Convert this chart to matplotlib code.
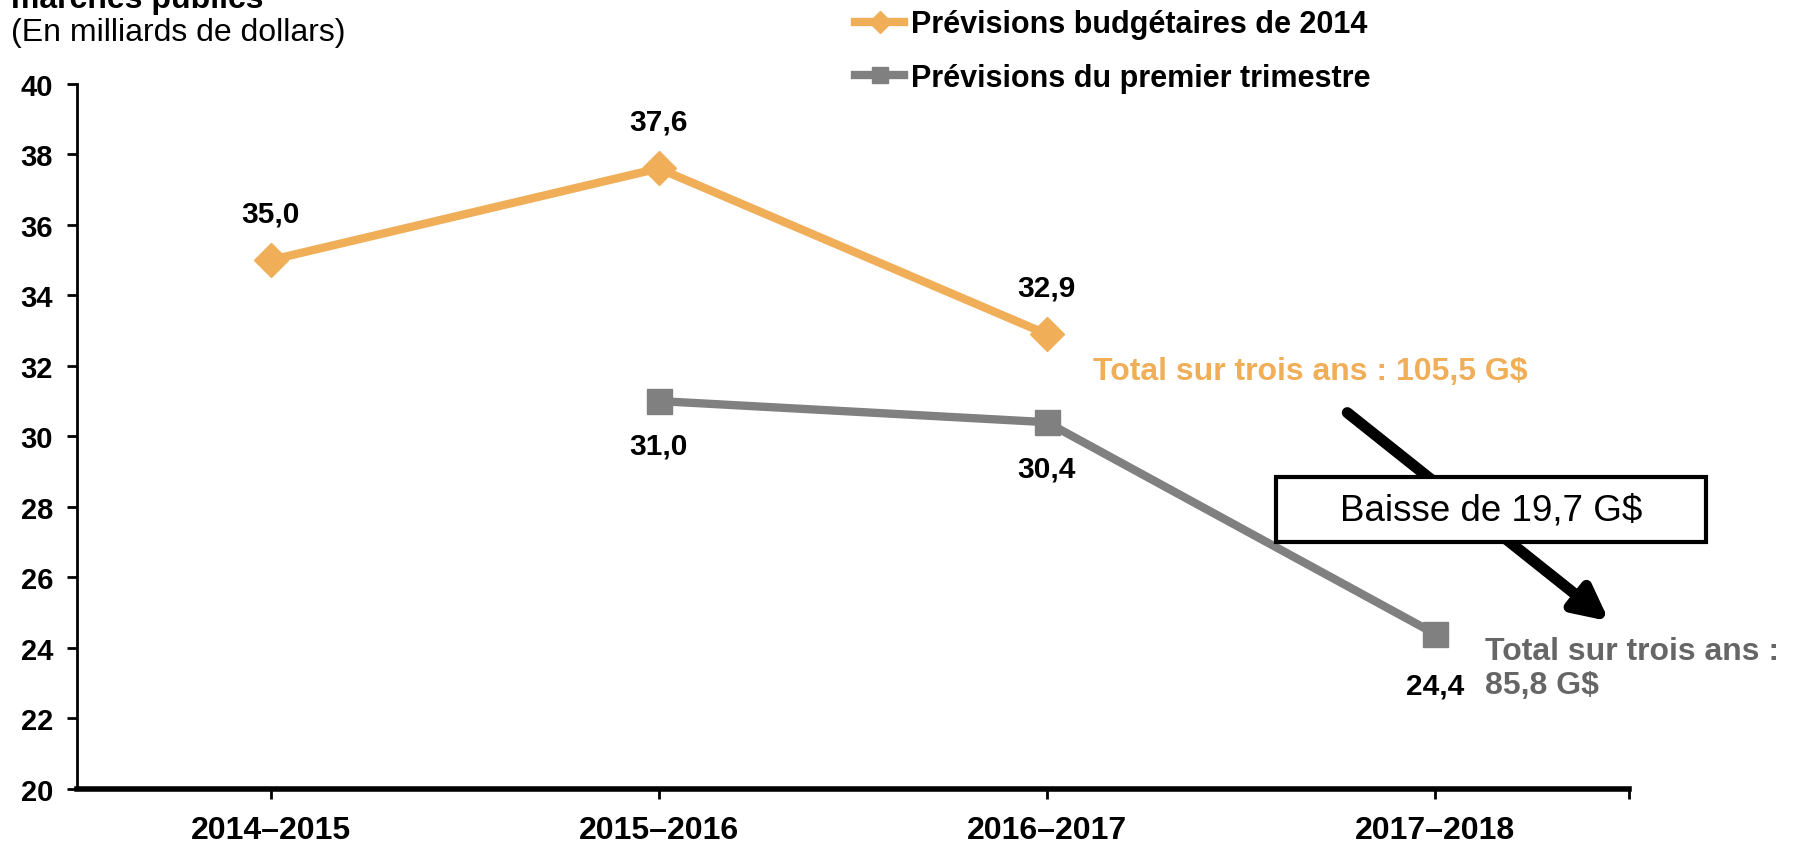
import matplotlib.pyplot as plt
from matplotlib.lines import Line2D
from matplotlib.patches import Rectangle

plt.rcParams['font.family'] = ['Liberation Sans', 'DejaVu Sans']

# data
years = ['2014–2015', '2015–2016', '2016–2017', '2017–2018']
budget_x = [0, 1, 2]
budget_vals = [35.0, 37.6, 32.9]
q1_x = [1, 2, 3]
q1_vals = [31.0, 30.4, 24.4]
budget_label = 'Prévisions budgétaires de 2014'
q1_label = 'Prévisions du premier trimestre'
total_budget = 'Total sur trois ans : 105,5 G$'
total_q1 = 'Total sur trois ans :\n85,8 G$'
drop_text = 'Baisse de 19,7 G$'

orange = '#F0AE58'
grey = '#808080'

fig = plt.figure(figsize=(17.97, 8.45), dpi=100)
ax = fig.add_axes([0.0427, 0.0654, 0.8636, 0.8342])

ax.plot(budget_x, budget_vals, color=orange, lw=6, marker='D', markersize=17, zorder=3)
ax.plot(q1_x, q1_vals, color=grey, lw=6, marker='s', markersize=18, zorder=3)

# data labels
for x, v in zip(budget_x, budget_vals):
    ax.annotate(f'{v:.1f}'.replace('.', ','), (x, v), xytext=(0, 33.5), textcoords='offset points',
                ha='center', va='center', fontsize=21.5, fontweight='bold')
for x, v, off in zip(q1_x, q1_vals, [-32, -33, -37]):
    ax.annotate(f'{v:.1f}'.replace('.', ','), (x, v), xytext=(0, off), textcoords='offset points',
                ha='center', va='center', fontsize=21.5, fontweight='bold')

ax.text(2.12, 31.85, total_budget, color=orange, fontsize=23, fontweight='bold', va='center', ha='left')
ax.text(3.13, 23.43, total_q1, color='#666666', fontsize=23, fontweight='bold', va='center', ha='left',
        linespacing=1.2, clip_on=False)

# arrow + box
ax.annotate('', xy=(3.45, 24.75), xytext=(2.775, 30.67),
            arrowprops=dict(arrowstyle='-|>,head_length=2.0,head_width=1.0', color='black', lw=8,
                            shrinkA=0, shrinkB=0), zorder=4, annotation_clip=False)
ax.add_patch(Rectangle((2.592, 26.99), 1.107, 1.86, facecolor='white', edgecolor='black', lw=3,
                       zorder=5, clip_on=False))
ax.text(3.145, 27.92, drop_text, fontsize=26.5, ha='center', va='center', zorder=6)

ax.set_xlim(-0.5, 3.5)
ax.set_ylim(20, 40)
ax.set_yticks(range(20, 41, 2))
ax.set_xticks(range(len(years)))
ax.set_xticklabels(years)
ax.set_xticks([3.5], minor=True)
ax.tick_params(axis='x', which='both', direction='out', length=7, width=2, pad=12, labelsize=23)
ax.tick_params(axis='y', direction='out', length=7, width=2, pad=10, labelsize=21)
for lbl in ax.get_xticklabels() + ax.get_yticklabels():
    lbl.set_fontweight('bold')
ax.spines['top'].set_visible(False)
ax.spines['right'].set_visible(False)
ax.spines['left'].set_linewidth(2)
ax.spines['bottom'].set_linewidth(4)

handles = [Line2D([], [], color=orange, lw=6, marker='D', markersize=11),
           Line2D([], [], color=grey, lw=6, marker='s', markersize=12)]
fig.legend(handles, [budget_label, q1_label], loc='upper left', bbox_to_anchor=(0.4675, 1.006),
           frameon=False, handlelength=1.6, handletextpad=0.21, labelspacing=0.78,
           borderpad=0, prop={'weight': 'bold', 'size': 22})

fig.text(0.006, 0.9905, 'marchés publics', fontsize=23, fontweight='bold', va='baseline', ha='left')
fig.text(0.006, 0.961, '(En milliards de dollars)', fontsize=23, va='center', ha='left')

fig.savefig('out.png', dpi=100)
